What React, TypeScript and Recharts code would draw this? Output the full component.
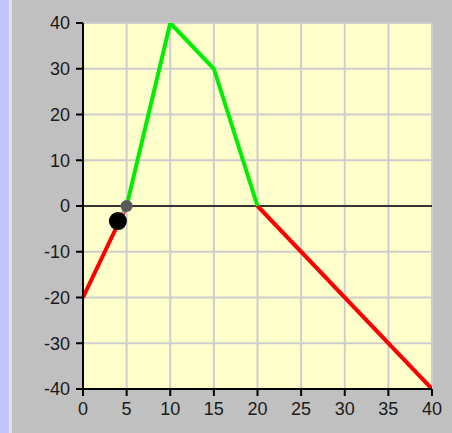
import React from "react";
import {
  ComposedChart,
  Line,
  Scatter,
  XAxis,
  YAxis,
  CartesianGrid,
  ReferenceLine,
} from "recharts";

const xValues = [0, 5, 10, 15, 20, 40];
const yValues = [-20, 0, 40, 30, 0, -40];
const xTicks = [0, 5, 10, 15, 20, 25, 30, 35, 40];
const yTicks = [-40, -30, -20, -10, 0, 10, 20, 30, 40];
const markerPoint = [{ x: 4.0, y: -3.3 }];
const anchorPoint = [{ x: 5, y: 0 }];

type P = { x: number; y: number | null };

function buildSeries(positive: boolean): P[] {
  const out: P[] = [];
  for (let i = 0; i < xValues.length; i++) {
    const y = yValues[i];
    const prev = i > 0 ? yValues[i - 1] : null;
    const next = i < yValues.length - 1 ? yValues[i + 1] : null;
    const ok = (a: number | null) =>
      a !== null && (positive ? a >= 0 : a <= 0);
    const segPrev = prev !== null && ok(prev) && ok(y) && (positive ? prev + y > 0 : prev + y < 0);
    const segNext = next !== null && ok(next) && ok(y) && (positive ? next + y > 0 : next + y < 0);
    out.push({ x: xValues[i], y: segPrev || segNext ? y : null });
  }
  return out;
}

const redData = buildSeries(false);
const greenData = buildSeries(true);
const connectorData = [markerPoint[0], anchorPoint[0]];

const tickStyle = {
  fontFamily: "'Liberation Sans', Arial, sans-serif",
  fontSize: 18,
  fill: "#1a1a1a",
};

export default function App() {
  return (
    <div
      style={{
        position: "fixed",
        left: 0,
        top: 0,
        width: 452,
        height: 433,
        background: "#c0c0c0",
        overflow: "hidden",
      }}
    >
      <div
        style={{
          position: "absolute",
          left: 0,
          top: 0,
          width: 9,
          height: 433,
          background: "#c4c4fc",
        }}
      />
      <div
        style={{
          position: "absolute",
          left: 9,
          top: 0,
          width: 3,
          height: 433,
          background: "#e2e2e2",
        }}
      />
      <div style={{ position: "absolute", left: 0, top: 0 }}>
        <ComposedChart
          width={452}
          height={433}
          margin={{ top: 23, right: 20, bottom: 13, left: 0 }}
        >
          <CartesianGrid fill="#ffffcc" stroke="#cdcdcd" strokeWidth={2} />
          <XAxis
            type="number"
            dataKey="x"
            domain={[0, 40]}
            ticks={xTicks}
            allowDataOverflow
            height={31}
            tickSize={7}
            tickMargin={6}
            stroke="#000"
            strokeWidth={2}
            tick={tickStyle}
            tickLine={{ stroke: "#000", strokeWidth: 2 }}
            interval={0}
          />
          <YAxis
            type="number"
            dataKey="y"
            domain={[-40, 40]}
            ticks={yTicks}
            allowDataOverflow
            width={83}
            tickSize={7}
            tickMargin={6}
            stroke="#000"
            strokeWidth={2}
            tick={tickStyle}
            tickLine={{ stroke: "#000", strokeWidth: 2 }}
            interval={0}
          />
          <ReferenceLine y={0} stroke="#000" strokeWidth={1.5} />
          <Line
            data={redData}
            dataKey="y"
            stroke="#ff0000"
            strokeWidth={4}
            dot={false}
            connectNulls={false}
            isAnimationActive={false}
            type="linear"
          />
          <Line
            data={greenData}
            dataKey="y"
            stroke="#00ee00"
            strokeWidth={4}
            dot={false}
            connectNulls={false}
            isAnimationActive={false}
            type="linear"
          />
          <Scatter
            data={markerPoint}
            dataKey="y"
            fill="#000"
            isAnimationActive={false}
            shape={(props: any) => (
              <circle cx={props.cx} cy={props.cy} r={9} fill="#000" />
            )}
          />
          <Line
            data={connectorData}
            dataKey="y"
            stroke="#a0a0a0"
            strokeWidth={3}
            dot={false}
            isAnimationActive={false}
            type="linear"
          />
          <Scatter
            data={anchorPoint}
            dataKey="y"
            fill="#595959"
            isAnimationActive={false}
            shape={(props: any) => (
              <circle cx={props.cx} cy={props.cy} r={6} fill="#595959" />
            )}
          />
        </ComposedChart>
      </div>
    </div>
  );
}
